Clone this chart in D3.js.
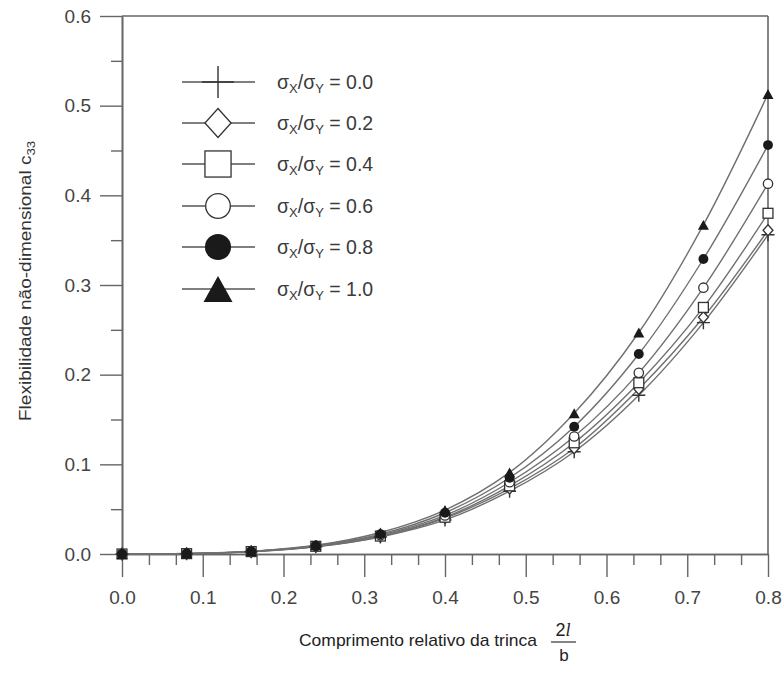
<!DOCTYPE html>
<html>
<head>
<meta charset="utf-8">
<script src="https://cdn.jsdelivr.net/npm/d3@7/dist/d3.min.js"></script>
<style>
  html, body { margin: 0; padding: 0; background: #fff; }
  svg { display: block; }
  text { font-family: "Liberation Sans", Arial, sans-serif; }
</style>
</head>
<body>
<svg id="chart" width="784" height="677"></svg>
<script>
// ---- data ----
const xValues = [0, 0.08, 0.16, 0.24, 0.32, 0.40, 0.48, 0.56, 0.64, 0.72, 0.80];
const ratioLabels = ["0.0", "0.2", "0.4", "0.6", "0.8", "1.0"];
const s00 = [0, 0.0004, 0.0025, 0.0080, 0.0190, 0.038, 0.070, 0.114, 0.177, 0.258, 0.356];
const s02 = [0, 0.0004, 0.0026, 0.0083, 0.0195, 0.040, 0.073, 0.118, 0.184, 0.264, 0.361];
const s04 = [0, 0.0004, 0.0027, 0.0086, 0.0200, 0.041, 0.076, 0.124, 0.191, 0.275, 0.380];
const s06 = [0, 0.0004, 0.0028, 0.0090, 0.0210, 0.043, 0.080, 0.131, 0.202, 0.297, 0.413];
const s08 = [0, 0.0005, 0.0029, 0.0093, 0.0220, 0.046, 0.085, 0.142, 0.223, 0.329, 0.456];
const s10 = [0, 0.0005, 0.0030, 0.0097, 0.0240, 0.049, 0.091, 0.157, 0.247, 0.367, 0.513];
const xMajorTicks = [0, 0.1, 0.2, 0.3, 0.4, 0.5, 0.6, 0.7, 0.8];
const yMajorTicks = [0, 0.1, 0.2, 0.3, 0.4, 0.5, 0.6];
const yMinorTicks = [0.05, 0.15, 0.25, 0.35, 0.45, 0.55];
const markerTypes = ["plus", "diamond", "square", "circle", "dot", "triangle"];
const seriesValues = [s00, s02, s04, s06, s08, s10];

const svg = d3.select("#chart");
const x = d3.scaleLinear().domain([0, 0.8]).range([122, 768]);
const y = d3.scaleLinear().domain([0, 0.6]).range([554, 16]);

const axisColor = "#666";
const lineColor = "#707070";
const markColor = "#1a1a1a";

// minor x ticks (3 per 0.1)
const xMinor = d3.range(0, 25).map(i => i / 30).filter((v, i) => i % 3 !== 0);

// frame: top and right
svg.append("line").attr("x1", x(0)).attr("x2", x(0.8)).attr("y1", y(0.6)).attr("y2", y(0.6))
  .attr("stroke", axisColor).attr("stroke-width", 1.6);
svg.append("line").attr("x1", x(0.8)).attr("x2", x(0.8)).attr("y1", y(0.6)).attr("y2", y(0))
  .attr("stroke", axisColor).attr("stroke-width", 1.6);

function styleAxis(g) {
  g.select(".domain").attr("stroke", axisColor).attr("stroke-width", 1.6);
  g.selectAll(".tick line").attr("stroke", axisColor).attr("stroke-width", 1.4);
  g.selectAll(".tick text").attr("fill", "#444").style("font-size", "19px")
    .style("font-family", "'Liberation Sans', Arial, sans-serif");
}

// x axis
const gxMinor = svg.append("g").attr("transform", `translate(0,${y(0)})`)
  .call(d3.axisBottom(x).tickValues(xMinor).tickSize(11).tickSizeOuter(0).tickFormat(""));
styleAxis(gxMinor);
const gx = svg.append("g").attr("transform", `translate(0,${y(0)})`)
  .call(d3.axisBottom(x).tickValues(xMajorTicks).tickSize(23).tickSizeOuter(0).tickPadding(14)
    .tickFormat(d3.format(".1f")));
styleAxis(gx);

// y axis
const gyMinor = svg.append("g").attr("transform", `translate(${x(0)},0)`)
  .call(d3.axisLeft(y).tickValues(yMinorTicks).tickSize(11).tickSizeOuter(0).tickFormat(""));
styleAxis(gyMinor);
const gy = svg.append("g").attr("transform", `translate(${x(0)},0)`)
  .call(d3.axisLeft(y).tickValues(yMajorTicks).tickSize(22).tickSizeOuter(0).tickPadding(9)
    .tickFormat(d3.format(".1f")));
styleAxis(gy);

// curves
const line = d3.line().x((d, i) => x(xValues[i])).y(d => y(d)).curve(d3.curveCatmullRom.alpha(0.5));
seriesValues.forEach(vals => {
  svg.append("path").attr("d", line(vals)).attr("fill", "none")
    .attr("stroke", lineColor).attr("stroke-width", 1.4);
});

// marker drawing
function drawMarker(g, type, cx, cy, s) {
  const h = s / 2;
  if (type === "plus") {
    g.append("path").attr("d", `M${cx - h},${cy}H${cx + h}M${cx},${cy - h}V${cy + h}`)
      .attr("stroke", "#333").attr("stroke-width", 1.4).attr("fill", "none");
  } else if (type === "diamond") {
    g.append("path").attr("d", `M${cx},${cy - h}L${cx + h * 0.9},${cy}L${cx},${cy + h}L${cx - h * 0.9},${cy}Z`)
      .attr("stroke", "#333").attr("stroke-width", 1.3).attr("fill", "#fff");
  } else if (type === "square") {
    g.append("rect").attr("x", cx - h * 0.9).attr("y", cy - h * 0.9).attr("width", h * 1.8).attr("height", h * 1.8)
      .attr("stroke", "#333").attr("stroke-width", 1.3).attr("fill", "#fff");
  } else if (type === "circle") {
    g.append("circle").attr("cx", cx).attr("cy", cy).attr("r", h * 0.85)
      .attr("stroke", "#333").attr("stroke-width", 1.3).attr("fill", "#fff");
  } else if (type === "dot") {
    g.append("circle").attr("cx", cx).attr("cy", cy).attr("r", h * 0.9).attr("fill", markColor);
  } else if (type === "triangle") {
    g.append("path").attr("d", `M${cx},${cy - h * 0.9}L${cx + h},${cy + h * 0.9}L${cx - h},${cy + h * 0.9}Z`)
      .attr("fill", markColor);
  }
}

// markers on plot
const gMarks = svg.append("g");
seriesValues.forEach((vals, si) => {
  vals.forEach((v, i) => drawMarker(gMarks, markerTypes[si], x(xValues[i]), y(v), si === 0 ? 13 : 11));
});

// legend
const legendRows = [82, 123, 164, 206, 247, 289];
const lg = svg.append("g");
ratioLabels.forEach((lab, i) => {
  const ry = legendRows[i];
  lg.append("line").attr("x1", 182).attr("x2", 255).attr("y1", ry).attr("y2", ry)
    .attr("stroke", "#555").attr("stroke-width", 1.4);
  drawMarker(lg, markerTypes[i], 218, ry, i === 0 ? 32 : 29);
  const t = lg.append("text").attr("x", 277).attr("y", ry + 7).attr("fill", "#3a3a3a")
    .style("font-size", "19.5px");
  t.append("tspan").text("σ");
  t.append("tspan").text("X").style("font-size", "13px").attr("dy", 4);
  t.append("tspan").text("/σ").attr("dy", -4);
  t.append("tspan").text("Y").style("font-size", "13px").attr("dy", 4);
  t.append("tspan").text(" = " + lab).attr("dy", -4);
});

// y axis title
const yt = svg.append("text").attr("transform", "translate(31,281) rotate(-90)")
  .attr("text-anchor", "middle").attr("fill", "#333").style("font-size", "16px")
  .attr("textLength", 280).attr("lengthAdjust", "spacingAndGlyphs");
yt.append("tspan").text("Flexibilidade não-dimensional c");
yt.append("tspan").text("33").style("font-size", "11px").attr("dy", 4);

// x axis title
svg.append("text").attr("x", 299).attr("y", 646).attr("fill", "#222").style("font-size", "17px")
  .attr("textLength", 238).attr("lengthAdjust", "spacingAndGlyphs")
  .text("Comprimento relativo da trinca");
const fr = svg.append("g");
const ft = fr.append("text").attr("x", 563).attr("y", 636).attr("text-anchor", "middle")
  .attr("fill", "#222").style("font-size", "18px").style("font-style", "italic");
ft.append("tspan").text("2").style("font-style", "normal");
ft.append("tspan").text("l").style("font-family", "'Liberation Serif', 'Times New Roman', serif");
fr.append("line").attr("x1", 551).attr("x2", 576).attr("y1", 642).attr("y2", 642)
  .attr("stroke", "#333").attr("stroke-width", 1.2);
fr.append("text").attr("x", 564).attr("y", 661).attr("text-anchor", "middle")
  .attr("fill", "#222").style("font-size", "17px").text("b");
</script>
</body>
</html>
